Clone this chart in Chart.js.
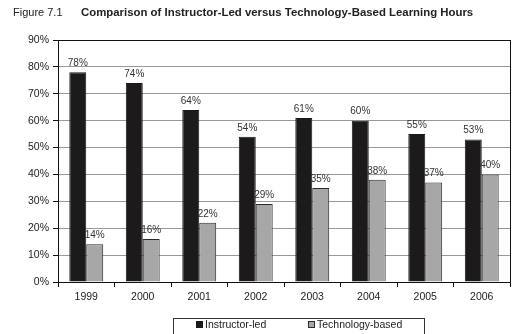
<!DOCTYPE html>
<html>
<head>
<meta charset="utf-8">
<script src="https://cdn.jsdelivr.net/npm/chart.js@4/dist/chart.umd.min.js"></script>
<style>
  html, body { margin: 0; padding: 0; background: #fff; }
  #wrap { width: 531px; height: 334px; position: relative; }
</style>
</head>
<body>
<div id="wrap"><canvas id="chart" width="531" height="334"></canvas></div>
<script>
// data
const years = ["1999", "2000", "2001", "2002", "2003", "2004", "2005", "2006"];
const instructorLed = [78, 74, 64, 54, 61, 60, 55, 53];
const technologyBased = [14, 16, 22, 29, 35, 38, 37, 40];
const yTicks = [0, 10, 20, 30, 40, 50, 60, 70, 80, 90];

const FONT = "'Liberation Sans', Arial, sans-serif";

// title: "Figure 7.1" normal + bold caption
const titlePlugin = {
  id: "figTitle",
  beforeDraw(chart) {
    const ctx = chart.ctx;
    ctx.save();
    ctx.fillStyle = "#fff";
    ctx.fillRect(0, 0, chart.width, chart.height);
    ctx.textBaseline = "middle";
    ctx.fillStyle = "#222";
    ctx.font = "11px " + FONT;
    ctx.fillText("Figure 7.1", 13, 13);
    ctx.font = "bold 11.4px " + FONT;
    ctx.fillText("Comparison of Instructor-Led versus Technology-Based Learning Hours", 81, 13);
    ctx.restore();
  }
};

// value labels above bars, plot frame, boxed legend
const labelPlugin = {
  id: "valueLabels",
  afterDatasetsDraw(chart) {
    const ctx = chart.ctx;
    ctx.save();
    ctx.font = "10px " + FONT;
    ctx.fillStyle = "#333";
    ctx.textAlign = "center";
    ctx.textBaseline = "bottom";
    chart.data.datasets.forEach((ds, i) => {
      chart.getDatasetMeta(i).data.forEach((bar, j) => {
        ctx.fillText(ds.data[j] + "%", bar.x, bar.y - 4);
      });
    });
    // frame around plot
    const a = chart.chartArea;
    ctx.strokeStyle = "#111";
    ctx.lineWidth = 1;
    ctx.strokeRect(Math.round(a.left) + 0.5, Math.round(a.top) + 0.5,
      Math.round(a.right - a.left), Math.round(a.bottom - a.top));

    // legend (boxed, below the axis)
    const top = 318;
    ctx.strokeStyle = "#333";
    ctx.strokeRect(173.5, top + 0.5, 251, 30);
    const items = [196, 308];
    ctx.textAlign = "left";
    ctx.textBaseline = "middle";
    ctx.font = "10.5px " + FONT;
    chart.data.datasets.forEach((ds, i) => {
      const x = items[i];
      ctx.fillStyle = ds.backgroundColor;
      ctx.fillRect(x, top + 3, 7, 7);
      ctx.strokeStyle = ds.borderColor;
      ctx.strokeRect(x + 0.5, top + 3.5, 6, 6);
      ctx.fillStyle = "#222";
      ctx.fillText(ds.label, x + 9, top + 7);
    });
    ctx.restore();
  }
};

new Chart(document.getElementById("chart"), {
  type: "bar",
  data: {
    labels: years,
    datasets: [
      {
        label: "Instructor-led",
        data: instructorLed,
        backgroundColor: "#1c1a1b",
        borderColor: "#1c1a1b",
        borderWidth: 1
      },
      {
        label: "Technology-based",
        data: technologyBased,
        backgroundColor: "#a7a7a7",
        borderColor: "#2a2a2a",
        borderWidth: 1
      }
    ]
  },
  options: {
    responsive: false,
    animation: false,
    devicePixelRatio: 1,
    layout: { padding: { top: 40, right: 21, left: 0, bottom: 28 } },
    datasets: { bar: { categoryPercentage: 0.6, barPercentage: 1.0 } },
    plugins: {
      legend: { display: false },
      tooltip: { enabled: false }
    },
    scales: {
      x: {
        grid: { drawOnChartArea: false, tickLength: 5, color: "#111", offset: true },
        border: { color: "#111" },
        ticks: { font: { size: 10.5, family: FONT }, color: "#222", padding: 4 },
        afterFit(scale) { scale.height = 24; }
      },
      y: {
        min: 0,
        max: 90,
        afterBuildTicks(scale) { scale.ticks = yTicks.map(v => ({ value: v })); },
        grid: { color: "#999", tickLength: 5, tickColor: "#111" },
        border: { color: "#111" },
        ticks: {
          font: { size: 10.5, family: FONT },
          color: "#222",
          padding: 4,
          callback: v => v + "%"
        },
        afterFit(scale) { scale.width = 58; }
      }
    }
  },
  plugins: [titlePlugin, labelPlugin]
});
</script>
</body>
</html>
